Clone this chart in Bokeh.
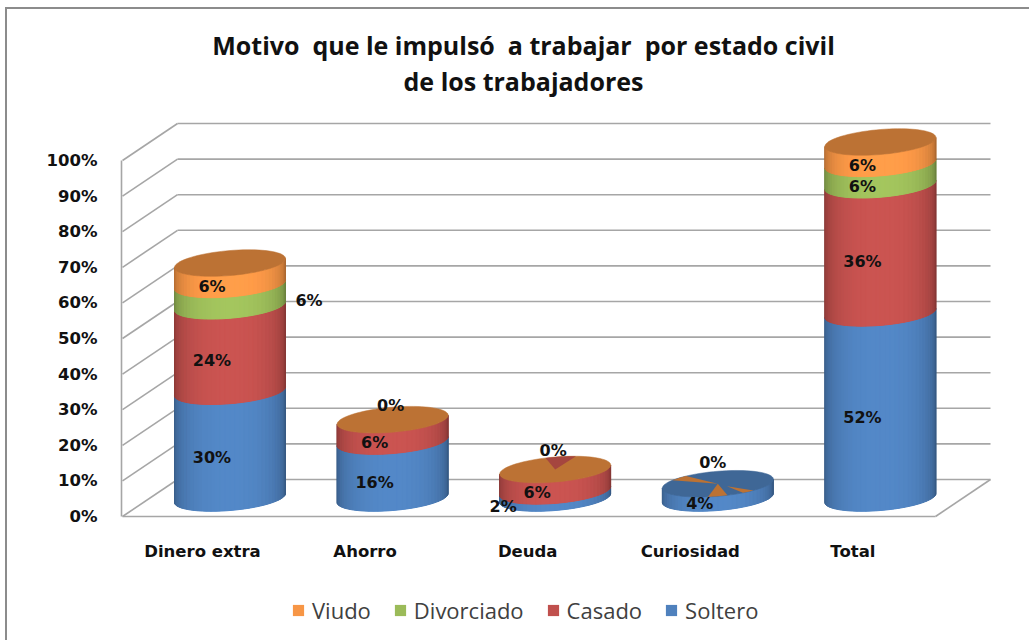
import math
from bokeh.plotting import figure
from bokeh.embed import file_html
from bokeh.resources import INLINE
from bokeh.models import (FixedTicker, Legend, LegendItem, Label, LinearAxis, InlineStyleSheet)
from bokeh.core.properties import value

categories = ["Dinero extra", "Ahorro", "Deuda", "Curiosidad", "Total"]
soltero = [30, 16, 2, 4, 52]
casado = [24, 6, 6, 0, 36]
divorciado = [6, 0, 0, 0, 6]
viudo = [6, 0, 0, 0, 6]
series_names = ["Soltero", "Casado", "Divorciado", "Viudo"]
series_colors = ["#4F81BD", "#C0504D", "#9BBB59", "#F79646"]
tick_values = [0, 10, 20, 30, 40, 50, 60, 70, 80, 90, 100]
title_lines = ["Motivo \u00a0que le impulsó \u00a0a trabajar \u00a0por estado civil", "de los trabajadores"]
legend_order = [3, 2, 1, 0]
# (category, series, shift right in px, shift up in px) for labels moved off their segment
label_shift = {(0, 2): (97, 7), (1, 3): (16, 27), (2, 3): (16, 32), (2, 0): (-34, 0), (3, 3): (13, 34)}
zero_labels = [(1, 3), (2, 3), (3, 3)]

series = [soltero, casado, divorciado, viudo]
FONT = "Open Sans"
BOLD = "DejaVu Sans"
PXX, PXY = 1 / 162.6, 1 / 3.56         # data units per pixel
A, B, TILT = 55.5 * PXX, 12.5 * PXY, 4.5 * PXY
DX, DY = 27.5 * PXX, 18.5 * PXY        # depth of the bars in the floor
WALL_X, WALL_Y = 55 * PXX, 37 * PXY    # depth of the back wall
AX_X = -0.498
FRONT_R = (935 - 202) * PXX

p = figure(width=1029, height=640, output_backend="svg", toolbar_location=None,
           x_range=(-202 * PXX, (1029 - 202) * PXX), y_range=((516 - 640) * PXY, 516 * PXY),
           x_axis_type=None, y_axis_type=None,
           min_border=0, background_fill_color="white", border_fill_color="white")
p.outline_line_color = None
p.grid.visible = False
p.stylesheets = [InlineStyleSheet(css=":host::before{content:'';position:absolute;left:5px;top:7px;right:0;bottom:0;"
                                      "border-left:2px solid #8c8c8c;border-top:2px solid #8c8c8c;"
                                      "pointer-events:none;z-index:5}")]

ya = LinearAxis(fixed_location=AX_X)
ya.ticker = FixedTicker(ticks=tick_values)
ya.major_label_overrides = {t: f"{t}%" for t in tick_values}
ya.bounds = (0, 100)
ya.axis_line_color = "#A6A6A6"
ya.axis_line_width = 1.6
ya.major_tick_line_color = None
ya.minor_tick_line_color = None
ya.major_label_standoff = 18
ya.major_label_text_font = BOLD
ya.major_label_text_font_style = "bold"
ya.major_label_text_font_size = "16.5px"
ya.major_label_text_color = "#111111"
p.add_layout(ya, "left")

xa = LinearAxis(fixed_location=-2 * PXY)
xa.ticker = FixedTicker(ticks=list(range(len(categories))))
xa.major_label_overrides = {i: c for i, c in enumerate(categories)}
xa.axis_line_color = None
xa.major_tick_line_color = None
xa.minor_tick_line_color = None
xa.major_label_standoff = 17
xa.major_label_text_font = BOLD
xa.major_label_text_font_style = "bold"
xa.major_label_text_font_size = "16.5px"
xa.major_label_text_color = "#111111"
p.add_layout(xa, "below")

# walls and floor
GRID = "#A6A6A6"
xl, xb, xr = AX_X + 1 * PXX, AX_X + 1 * PXX + WALL_X, FRONT_R + WALL_X
p.segment(x0=[xb] * len(tick_values), y0=[t + WALL_Y for t in tick_values],
          x1=[xr] * len(tick_values), y1=[t + WALL_Y for t in tick_values], line_color=GRID, line_width=1.6)
p.segment(x0=[xl] * len(tick_values), y0=tick_values,
          x1=[xb] * len(tick_values), y1=[t + WALL_Y for t in tick_values], line_color=GRID, line_width=1.6)
p.segment(x0=[xl, FRONT_R], y0=[0, 0], x1=[FRONT_R, xr], y1=[0, WALL_Y], line_color=GRID, line_width=1.6)


def ell(cx, level, t):
    return (cx + A * math.cos(t), level + B * math.sin(t) + TILT * math.cos(t))


def shade(col, f):
    r, g, b = int(col[1:3], 16), int(col[3:5], 16), int(col[5:7], 16)
    return "#%02x%02x%02x" % tuple(min(255, int(c * f)) for c in (r, g, b))


N = 36
legend_renderers = {}
for s, vals in enumerate(series):
    base_xs, base_ys = [], []
    strip_xs, strip_ys, strip_cols = [], [], []
    for i, v in enumerate(vals):
        if v <= 0:
            continue
        lo = DY + sum(series[k][i] for k in range(s))
        hi = lo + v
        cx = i + DX
        ts = [math.pi * (1 + j / 60) for j in range(61)]
        low = [ell(cx, lo, t) for t in ts]
        high = [ell(cx, hi, t) for t in ts]
        base_xs.append([q[0] for q in low] + [q[0] for q in reversed(high)])
        base_ys.append([q[1] for q in low] + [q[1] for q in reversed(high)])
        for j in range(N):
            t0 = math.pi * (1 + j / N)
            t1 = math.pi * (1 + (j + 1) / N)
            a0, a1 = ell(cx, lo, t0), ell(cx, lo, t1)
            b0, b1 = ell(cx, hi, t0), ell(cx, hi, t1)
            strip_xs.append([a0[0], a1[0], b1[0], b0[0]])
            strip_ys.append([a0[1], a1[1], b1[1], b0[1]])
            pos = abs((j + 0.5) / N * 2 - 1)
            strip_cols.append(shade(series_colors[s], 1.06 - 0.38 * pos ** 2.2))
    r = p.patches(base_xs, base_ys, fill_color=series_colors[s], line_color=None)
    legend_renderers[s] = r
    if strip_xs:
        p.patches(strip_xs, strip_ys, fill_color=strip_cols, line_color=strip_cols, line_width=1)

# top faces
top_colors = {3: "#3F6796"}
totals = [sum(col[i] for col in series) for i in range(len(categories))]
tx, ty, tc = [], [], []
for i, tot in enumerate(totals):
    pts = [ell(i + DX, DY + tot, 2 * math.pi * j / 80) for j in range(80)]
    tx.append([q[0] for q in pts])
    ty.append([q[1] for q in pts])
    tc.append(top_colors.get(i, "#BC7234"))
p.patches(tx, ty, fill_color=tc, line_color=tc, line_width=0.5)

# 0% slices visible in the top faces: category, start angle, end angle, apex radius, colour
slices = [(2, 68, 100, 0.0, "#A5463F"), (3, 125, 145, 0.0, "#BC7234"),
          (3, 260, 280, 0.0, "#BC7234"), (3, 297, 310, 0.3, "#BC7234")]
wx, wy, wc = [], [], []
for i, a0, a1, r0, col in slices:
    lvl = DY + totals[i]
    cx = i + DX
    c0 = ell(cx, lvl, math.radians((a0 + a1) / 2))
    apex = (cx + (c0[0] - cx) * r0, lvl + (c0[1] - lvl) * r0)
    arc = [ell(cx, lvl, math.radians(a0 + (a1 - a0) * j / 8)) for j in range(9)]
    wx.append([apex[0]] + [q[0] for q in arc])
    wy.append([apex[1]] + [q[1] for q in arc])
    wc.append(col)
p.patches(wx, wy, fill_color=wc, line_color=None)

# data labels
lx, ly, lt = [], [], []
for s, vals in enumerate(series):
    for i, v in enumerate(vals):
        if v <= 0 and (i, s) not in zero_labels:
            continue
        mid = sum(series[k][i] for k in range(s)) + v / 2
        sx, sy = label_shift.get((i, s), (0, 0))
        lx.append(i + DX - 18 * PXX + sx * PXX)
        ly.append(DY + mid - B + sy * PXY)
        lt.append(f"{v}%")
p.text(lx, ly, lt, text_font=value(BOLD), text_font_style="bold", text_font_size="16px",
       text_color="#111111", text_align="center", text_baseline="middle")

# title
for line, sy in zip(title_lines, [44, 80]):
    p.add_layout(Label(x=(523 - 202) * PXX, y=(516 - sy) * PXY, text=line, text_align="center",
                       text_baseline="middle", text_font=FONT, text_font_style="bold",
                       text_font_size="25px", text_color="#111111"))

legend = Legend(items=[LegendItem(label=series_names[s], renderers=[legend_renderers[s]]) for s in legend_order],
                orientation="horizontal", location=(291, 15), background_fill_alpha=0,
                border_line_color=None, label_text_font=FONT, label_text_font_size="22px",
                label_text_color="#404040", glyph_width=14, glyph_height=14, spacing=22,
                label_standoff=7, margin=0, padding=0)
p.add_layout(legend)

open("out.html", "w").write(file_html(p, INLINE))
